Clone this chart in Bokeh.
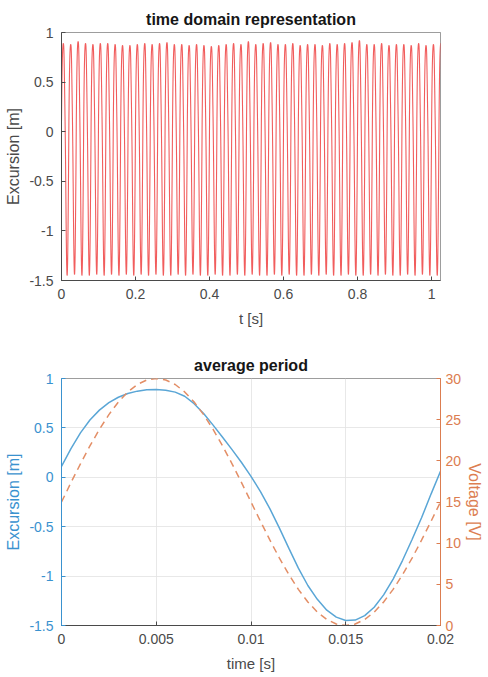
import numpy as np
from bokeh.plotting import figure
from bokeh.layouts import column
from bokeh.models import Range1d, LinearAxis, FixedTicker, Label
from bokeh.embed import file_html
from bokeh.resources import INLINE

# ---------------- data ----------------
# average period (one 50 Hz cycle), excursion in units of 1e-5 m, voltage in V
avg_time = [0.0000, 0.0005, 0.0010, 0.0015, 0.0020, 0.0025, 0.0030, 0.0035, 0.0040, 0.0045,
            0.0050, 0.0055, 0.0060, 0.0065, 0.0070, 0.0075, 0.0080, 0.0085, 0.0090, 0.0095,
            0.0100, 0.0105, 0.0110, 0.0115, 0.0120, 0.0125, 0.0130, 0.0135, 0.0140, 0.0145,
            0.0150, 0.0155, 0.0160, 0.0165, 0.0170, 0.0175, 0.0180, 0.0185, 0.0190, 0.0195,
            0.0200]
avg_excursion = [0.11, 0.29, 0.45, 0.58, 0.68, 0.755, 0.81, 0.848, 0.872, 0.886,
                 0.889, 0.882, 0.862, 0.82, 0.745, 0.645, 0.528, 0.405, 0.28, 0.15,
                 0.01, -0.145, -0.32, -0.515, -0.72, -0.92, -1.095, -1.235, -1.345, -1.415,
                 -1.45, -1.445, -1.40, -1.315, -1.19, -1.03, -0.84, -0.63, -0.41, -0.17,
                 0.06]
avg_voltage = [15.0, 17.35, 19.64, 21.81, 23.82, 25.61, 27.14, 28.37, 29.27, 29.82,
               30.0, 29.82, 29.27, 28.37, 27.14, 25.61, 23.82, 21.81, 19.64, 17.35,
               15.0, 12.65, 10.36, 8.19, 6.18, 4.39, 2.86, 1.63, 0.73, 0.18,
               0.0, 0.18, 0.73, 1.63, 2.86, 4.39, 6.18, 8.19, 10.36, 12.65,
               15.0]

# time-domain record: 52 cycles of 20 ms, per-cycle peak / trough (x1e-5 m)
cycle_period = 0.02
cycle_peaks = [0.89, 0.88, 0.91, 0.89, 0.88, 0.89, 0.89, 0.88, 0.87, 0.87,
               0.88, 0.89, 0.88, 0.89, 0.90, 0.88, 0.88, 0.87, 0.88, 0.87,
               0.86, 0.87, 0.88, 0.89, 0.88, 0.91, 0.88, 0.89, 0.90, 0.88,
               0.88, 0.89, 0.87, 0.88, 0.88, 0.87, 0.89, 0.88, 0.89, 0.90,
               0.92, 0.88, 0.88, 0.89, 0.87, 0.88, 0.88, 0.87, 0.89, 0.87,
               0.88, 0.89]
cycle_troughs = [-1.45, -1.44, -1.45, -1.45, -1.44, -1.45, -1.44, -1.45, -1.44, -1.45,
                 -1.44, -1.45, -1.44, -1.45, -1.45, -1.44, -1.45, -1.44, -1.45, -1.45,
                 -1.44, -1.45, -1.45, -1.44, -1.45, -1.44, -1.45, -1.45, -1.44, -1.45,
                 -1.44, -1.45, -1.45, -1.44, -1.45, -1.44, -1.45, -1.45, -1.44, -1.45,
                 -1.45, -1.44, -1.45, -1.44, -1.45, -1.45, -1.44, -1.45, -1.44, -1.45,
                 -1.45, -1.44]

top_xticks = [0, 0.2, 0.4, 0.6, 0.8, 1.0]
top_xlabels = ["0", "0.2", "0.4", "0.6", "0.8", "1"]
exc_ticks = [-1.5, -1.0, -0.5, 0.0, 0.5, 1.0]
exc_labels = ["-1.5", "-1", "-0.5", "0", "0.5", "1"]
bot_xticks = [0, 0.005, 0.01, 0.015, 0.02]
bot_xlabels = ["0", "0.005", "0.01", "0.015", "0.02"]
volt_ticks = [0, 5, 10, 15, 20, 25, 30]
volt_labels = ["0", "5", "10", "15", "20", "25", "30"]

# build time-domain trace by repeating the average period with per-cycle extremes
shape = np.array(avg_excursion[:-1])
ptime = np.array(avg_time[:-1])
smax, smin = shape.max(), shape.min()
tt, vv = [], []
for k, (pk, tr) in enumerate(zip(cycle_peaks, cycle_troughs)):
    seg = np.where(shape > 0, shape * pk / smax, shape * tr / smin)
    tt.append(ptime + k * cycle_period)
    vv.append(seg)
top_t = np.concatenate(tt)
top_v = np.concatenate(vv)

# ---------------- style ----------------
FONT = "Liberation Sans"
GREY = "#4a4a4a"
BLUE_AX = "#3a92cf"
BLUE_LN = "#5aa6d6"
ORANGE_AX = "#dc7d50"
ORANGE_LN = "#e38e66"


def style_axis(ax, color, label_size="16px", lab_standoff=8, ax_standoff=4):
    ax.axis_line_color = color
    ax.major_tick_line_color = color
    ax.major_tick_in = 4
    ax.major_tick_out = 0
    ax.minor_tick_line_color = None
    ax.major_label_text_color = color
    ax.major_label_text_font = FONT
    ax.major_label_text_font_size = "14px"
    ax.major_label_standoff = lab_standoff
    ax.axis_label_text_color = color
    ax.axis_label_text_font = FONT
    ax.axis_label_text_font_size = label_size
    ax.axis_label_text_font_style = "normal"
    ax.axis_label_standoff = ax_standoff


def style_title(p):
    p.title.text_font = FONT
    p.title.text_font_size = "16px"
    p.title.text_font_style = "bold"
    p.title.text_color = "#161616"
    p.title.align = "center"


# ---------------- top figure ----------------
p1 = figure(width=486, height=335, x_range=Range1d(0, 1.024), y_range=Range1d(-1.5, 1.0),
            title="time domain representation", output_backend="svg", toolbar_location=None,
            min_border_left=61, min_border_right=45, min_border_top=32, min_border_bottom=55)
style_title(p1)
p1.outline_line_color = "#262626"
p1.outline_line_alpha = 0.45
p1.grid.visible = False
p1.line(top_t, top_v, line_color="#ee3434", line_width=1.1, line_alpha=0.8)
p1.xaxis.ticker = FixedTicker(ticks=top_xticks)
p1.xaxis.major_label_overrides = {t: l for t, l in zip(top_xticks, top_xlabels)}
p1.yaxis.ticker = FixedTicker(ticks=exc_ticks)
p1.yaxis.major_label_overrides = {t: l for t, l in zip(exc_ticks, exc_labels)}
p1.xaxis.axis_label = "t [s]"
p1.yaxis.axis_label = "Excursion [m]"
style_axis(p1.xaxis[0], GREY, "15px", 8, 8)
style_axis(p1.yaxis[0], GREY)
p1.add_layout(Label(x=0, y=1.0, text="×10", x_offset=1, y_offset=1, text_font=FONT,
                    text_font_size="13px", text_color="#8a8a8a", text_baseline="bottom"))
p1.add_layout(Label(x=0, y=1.0, text="-5", x_offset=26, y_offset=9, text_font=FONT,
                    text_font_size="10px", text_color="#8a8a8a", text_baseline="bottom"))

# ---------------- bottom figure ----------------
p2 = figure(width=486, height=342, x_range=Range1d(0, 0.02), y_range=Range1d(-1.5, 1.0),
            title="average period", output_backend="svg", toolbar_location=None,
            min_border_left=61, min_border_right=45, min_border_top=43, min_border_bottom=52)
p2.extra_y_ranges = {"volt": Range1d(0, 30)}
style_title(p2)
p2.outline_line_color = "#262626"
p2.outline_line_alpha = 0.45
p2.grid.grid_line_color = "#e2e2e2"
p2.grid.grid_line_alpha = 0.8
p2.line(avg_time, avg_excursion, line_color=BLUE_LN, line_width=1.5)
p2.line(avg_time, avg_voltage, y_range_name="volt", line_color=ORANGE_LN, line_width=1.5,
        line_dash="7 5")
p2.xaxis.ticker = FixedTicker(ticks=bot_xticks)
p2.xaxis.major_label_overrides = {t: l for t, l in zip(bot_xticks, bot_xlabels)}
p2.yaxis.ticker = FixedTicker(ticks=exc_ticks)
p2.yaxis.major_label_overrides = {t: l for t, l in zip(exc_ticks, exc_labels)}
p2.xaxis.axis_label = "time [s]"
p2.yaxis.axis_label = "Excursion [m]"
style_axis(p2.xaxis[0], GREY, "15px", 8, 8)
style_axis(p2.yaxis[0], BLUE_AX)
vax = LinearAxis(y_range_name="volt", ticker=FixedTicker(ticks=volt_ticks),
                 axis_label="Voltage [V]")
vax.major_label_overrides = {t: l for t, l in zip(volt_ticks, volt_labels)}
style_axis(vax, ORANGE_AX, "16px", 5, 2)
p2.add_layout(vax, "right")
p2.add_layout(Label(x=0, y=1.0, text="×10", x_offset=1, y_offset=1, text_font=FONT,
                    text_font_size="13px", text_color="#6aaedc", text_baseline="bottom"))
p2.add_layout(Label(x=0, y=1.0, text="-5", x_offset=26, y_offset=9, text_font=FONT,
                    text_font_size="10px", text_color="#6aaedc", text_baseline="bottom"))

layout = column(p1, p2, spacing=0)
open("out.html", "w").write(file_html(layout, INLINE))
